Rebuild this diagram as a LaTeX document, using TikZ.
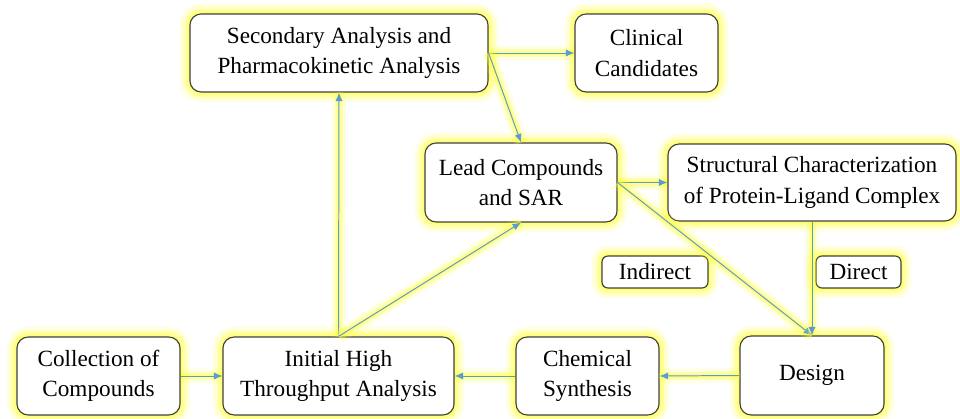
\documentclass[tikz,border=0pt]{standalone}
\usepackage{fontspec}
\setmainfont{Liberation Serif}
\usetikzlibrary{arrows.meta}
\definecolor{linkblue}{HTML}{5B9BD5}
\definecolor{glowyellow}{HTML}{FFFF40}
\tikzset{
  glow/.style={preaction={draw=glowyellow,line width=15pt,opacity=.12},
               preaction={draw=glowyellow,line width=11pt,opacity=.2},
               preaction={draw=glowyellow,line width=7pt,opacity=.3},
               preaction={draw=glowyellow,line width=3.5pt,opacity=.45}},
  box/.style={glow,draw=black!75,line width=0.8pt,fill=white,rounded corners=0.28cm,
              align=center,inner sep=0pt,font=\fontsize{16.5}{21.5}\selectfont},
  tag/.style={box,rounded corners=0.15cm},
  link/.style={draw=linkblue,line width=0.7pt,-{Latex[length=6pt,width=5pt]},
               preaction={draw=glowyellow,line width=10pt,opacity=.15,-},
               preaction={draw=glowyellow,line width=6pt,opacity=.3,-},
               preaction={draw=glowyellow,line width=3pt,opacity=.4,-}}
}
\begin{document}
\begin{tikzpicture}[x=0.025cm,y=-0.025cm]
		\useasboundingbox (0,0) rectangle (960,419);
		
		%%%%% BOXES %%%%%
		\node[box,minimum width=7.45cm,minimum height=1.95cm] (secondary) at (339,53) {Secondary Analysis and\\Pharmacokinetic Analysis};
		\node[box,minimum width=3.575cm,minimum height=1.95cm] (clinical) at (646.5,53) {Clinical\\Candidates};
		\node[box,minimum width=4.8cm,minimum height=1.975cm] (lead) at (521,182.5) {Lead Compounds\\and SAR};
		\node[box,minimum width=7.2cm,minimum height=1.925cm] (structural) at (812,182.5) {Structural Characterization\\of Protein-Ligand Complex};
		
		\node[tag,minimum width=2.65cm,minimum height=0.8cm] (indirect) at (655,272) {Indirect};
		\node[tag,minimum width=2.125cm,minimum height=0.8cm] (direct) at (858.5,272) {Direct};
		
		\node[box,minimum width=4.075cm,minimum height=1.95cm] (collection) at (98.5,376) {Collection of\\Compounds};
		\node[box,minimum width=5.775cm,minimum height=1.95cm] (initial) at (338.5,376) {Initial High\\Throughput Analysis};
		\node[box,minimum width=3.575cm,minimum height=1.95cm] (chemical) at (587.5,376) {Chemical\\Synthesis};
		\node[box,minimum width=3.6cm,minimum height=1.975cm] (design) at (812,375.5) {Design};
		
		%%%%% ARROWS %%%%%
		\draw[link] (secondary.east) -- (clinical.west);
		\draw[link] (secondary.east) -- (lead.north);
		\draw[link] (lead.east) -- (structural.west);
		\draw[link] (lead.east) -- (design.north);
		\draw[link] (structural.south) -- (design.north);
		\draw[link] (design.west) -- (chemical.east);
		\draw[link] (chemical.west) -- (initial.east);
		\draw[link] (collection.east) -- (initial.west);
		\draw[link] (initial.north) -- (secondary.south);
		\draw[link] (initial.north) -- (lead.south);
		
	\end{tikzpicture}
\end{document}
